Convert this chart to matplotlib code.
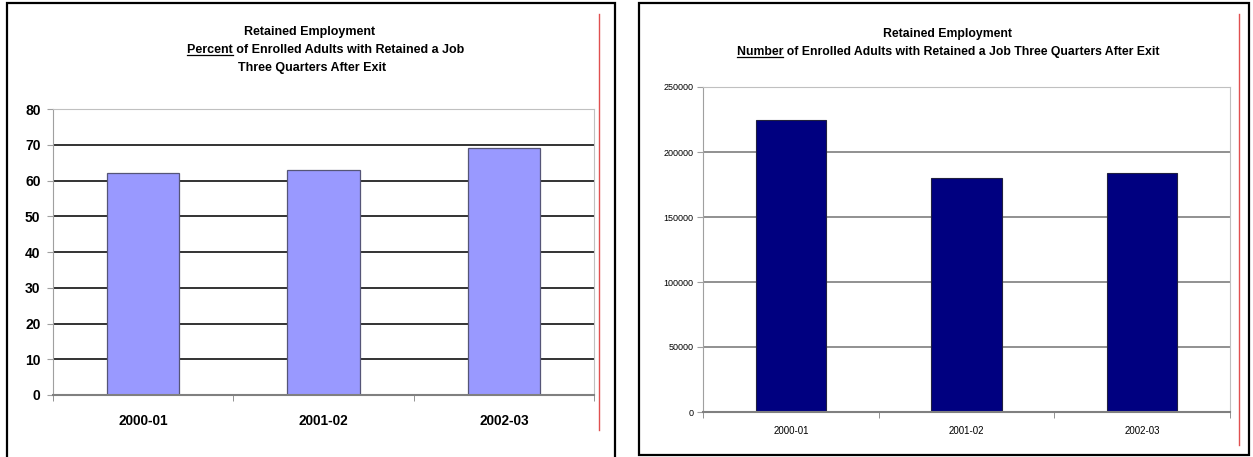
import matplotlib
matplotlib.use("Agg")
import matplotlib.pyplot as plt
from matplotlib.patches import Rectangle
from matplotlib.lines import Line2D

plt.rcParams['font.family'] = ['Liberation Sans', 'DejaVu Sans']

# data
years = ['2000-01', '2001-02', '2002-03']
pct_retained = [62.2, 62.9, 69.0]
num_retained = [224500, 180000, 183500]

W, H = 1253, 457
fig = plt.figure(figsize=(W / 100, H / 100), dpi=100)


def px_axes(x0, y0, x1, y1):
    # pixel box (top-left origin) -> figure axes
    return fig.add_axes([x0 / W, 1 - y1 / H, (x1 - x0) / W, (y1 - y0) / H])


def frame(x0, y0, x1, y1, red_x, red_y0, red_y1):
    fig.patches.append(Rectangle((x0 / W, 1 - y1 / H), (x1 - x0) / W, (y1 - y0) / H,
                                 transform=fig.transFigure, fill=False,
                                 edgecolor='black', linewidth=1.6))
    fig.lines.append(Line2D([red_x / W, red_x / W], [1 - red_y0 / H, 1 - red_y1 / H],
                            transform=fig.transFigure, color='#e05050', linewidth=1.0))


def title_line(x, y, text, size, under=None):
    t = fig.text(x / W, 1 - y / H, text, ha='center', va='center',
                 fontsize=size, fontweight='bold')
    if under:
        fig.canvas.draw()
        r = fig.canvas.get_renderer()
        bb = t.get_window_extent(r)
        tmp = fig.text(0, 0, under, fontsize=size, fontweight='bold')
        wb = tmp.get_window_extent(r)
        tmp.remove()
        # underline just below the baseline
        yl = bb.y0 + 0.21 * size * fig.dpi / 72 - 1.5
        fig.lines.append(Line2D([bb.x0 / W, (bb.x0 + wb.width) / W], [yl / H, yl / H],
                                transform=fig.transFigure, color='black', linewidth=0.9))


def style_axes(ax, grid_color, spine_color, bottom_color):
    ax.set_xlim(-0.5, 2.5)
    for s in ['top', 'right']:
        ax.spines[s].set_color('#c0c0c0')
    ax.spines['left'].set_color(spine_color)
    ax.spines['bottom'].set_color(bottom_color)
    ax.spines['bottom'].set_linewidth(1.5)
    ax.set_xticks(range(len(years)))
    ax.set_xticklabels(years)
    ax.set_xticks([-0.5, 0.5, 1.5, 2.5], minor=True)
    ax.tick_params(axis='x', which='major', length=0)
    ax.tick_params(axis='x', which='minor', length=4, color=bottom_color, direction='out')
    ax.tick_params(axis='y', length=4, color=spine_color, direction='out')
    ax.yaxis.grid(True, color=grid_color, linewidth=1.4)
    ax.set_axisbelow(True)


# ---- left panel: percent ----
frame(7, 3, 615, 462, 599, 14, 430)
title_line(310, 32, 'Retained Employment', 9)
title_line(326, 50, 'Percent of Enrolled Adults with Retained a Job', 9, under='Percent')
title_line(312, 68, 'Three Quarters After Exit', 9)

ax1 = px_axes(53, 109, 594, 395)
ax1.bar(range(len(years)), pct_retained, width=0.4, color='#9999ff',
        edgecolor='#555577', linewidth=0.9)
style_axes(ax1, '#333333', '#a0a0a0', '#808080')
ax1.set_ylim(0, 80)
ax1.set_yticks(range(0, 81, 10))
for lab in ax1.get_yticklabels() + ax1.get_xticklabels():
    lab.set_fontweight('bold')
ax1.tick_params(axis='y', labelsize=10, pad=5)
ax1.tick_params(axis='x', labelsize=9.8, pad=14)

# ---- right panel: number ----
frame(639, 3, 1249, 455, 1239, 14, 445)
title_line(948, 34, 'Retained Employment', 8.8)
title_line(948, 52, 'Number of Enrolled Adults with Retained a Job Three Quarters After Exit', 8.8,
           under='Number')

ax2 = px_axes(703, 87, 1230, 412)
ax2.bar(range(len(years)), num_retained, width=0.4, color='#000080',
        edgecolor='#202040', linewidth=0.8)
style_axes(ax2, '#909090', '#a0a0a0', '#808080')
ax2.set_ylim(0, 250000)
ax2.set_yticks(range(0, 250001, 50000))
ax2.tick_params(axis='y', labelsize=6.5, pad=3)
ax2.tick_params(axis='x', labelsize=7, pad=10)

fig.savefig('out.png', dpi=100)
